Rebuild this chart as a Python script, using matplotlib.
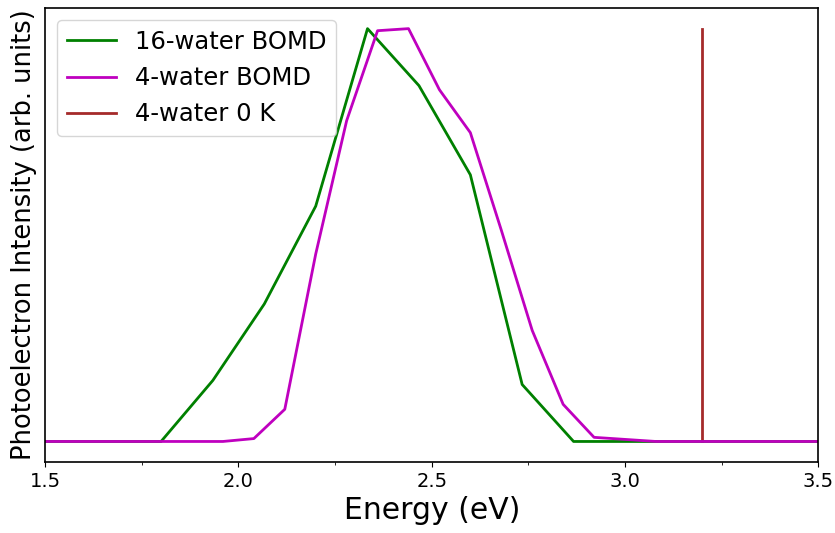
import numpy as np
import matplotlib.pyplot as plt
from matplotlib.ticker import MultipleLocator

# 16-water BOMD spectrum
e16 = [1.4, 1.667, 1.8, 1.934, 2.067, 2.2, 2.334, 2.467, 2.6, 2.734, 2.867, 3.0, 3.6]
i16 = [0.0, 0.0, 0.0, 0.148, 0.333, 0.570, 1.0, 0.862, 0.646, 0.138, 0.0, 0.0, 0.0]

# 4-water BOMD spectrum
e4 = [1.4, 1.96, 2.04, 2.12, 2.2, 2.28, 2.36, 2.44, 2.52, 2.6, 2.68, 2.76,
      2.84, 2.92, 3.0, 3.08, 3.6]
i4 = [0.0, 0.0, 0.007, 0.078, 0.454, 0.777, 0.995, 1.0, 0.852, 0.748, 0.512,
      0.269, 0.090, 0.010, 0.005, 0.0, 0.0]

# 4-water 0 K stick
e0 = [3.2, 3.2]
i0 = [0.0, 1.0]

fig = plt.figure(figsize=(8.35, 5.33), dpi=100)
ax = fig.add_axes([0.054, 0.133, 0.926, 0.852])

ax.plot(e16, i16, color='green', lw=2, label='16-water BOMD')
ax.plot(e4, i4, color='m', lw=2, label='4-water BOMD')
ax.plot(e0, i0, color='brown', lw=2, label='4-water 0 K', zorder=1.9)

ax.set_xlim(1.5, 3.5)
ax.set_ylim(-0.05, 1.05)
ax.xaxis.set_major_locator(MultipleLocator(0.5))
ax.xaxis.set_minor_locator(MultipleLocator(0.25))
ax.set_yticks([])
ax.tick_params(axis='x', labelsize=14)
for s in ax.spines.values():
    s.set_linewidth(1.2)

ax.set_xlabel('Energy (eV)', fontsize=21.5)
ax.set_ylabel('Photoelectron Intensity (arb. units)', fontsize=18.5, labelpad=6)
ax.legend(loc='upper left', fontsize=17.5)

fig.savefig('out.png', dpi=100)
